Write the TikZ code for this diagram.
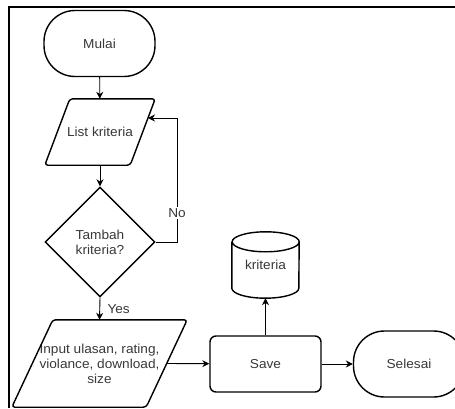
\documentclass[tikz,border=0pt]{standalone}
\usepackage{fontspec}
\setmainfont[FakeStretch=1.05]{Liberation Sans}
\usetikzlibrary{shapes.geometric,arrows.meta,calc}
\begin{document}
\begin{tikzpicture}[x=1pt,y=1pt,
  every node/.style={font=\fontsize{13}{15}\selectfont, text=black!78},
  shp/.style={draw=black, line width=1.4pt},
  term/.style={shp, rectangle, rounded corners=31pt, minimum width=111pt, minimum height=66pt, inner sep=0pt},
  box/.style={rectangle, inner sep=0pt, align=center},
  decide/.style={shp, diamond, aspect=1, minimum size=110pt, inner sep=0pt, align=center},
  proc/.style={shp, rectangle, rounded corners=6pt, minimum width=111pt, minimum height=56pt, inner sep=0pt},
  conn/.style={draw=black, line width=0.9pt, -{Stealth[length=7pt,width=7pt]}},
  lbl/.style={fill=white, inner sep=1pt}
]
\useasboundingbox (0,0) rectangle (455,408);

% outer frame
\draw[line width=2pt] (8.5,0) -- (8.5,400.5) -- (455,400.5);

% nodes
\node[term] (mulai) at (99.5,364.5) {Mulai};
\node[box, minimum width=110pt, minimum height=66pt] (list) at (100,276) {List kriteria};
\node[decide] (dec) at (100,166) {Tambah\\kriteria?};
\node[box, minimum width=175pt, minimum height=87pt] (input) at (99.5,44.5)
      {Input ulasan, rating,\\violance, download,\\size};
\node[proc] (save) at (265.5,44) {Save};
\node[box, minimum width=67pt, minimum height=66pt] (kdb) at (265.5,143) {kriteria};
\node[term] (selesai) at (409,44) {Selesai};

% data (parallelogram) outlines
\draw[shp, rounded corners=3pt] ([xshift=25pt]list.north west) -- (list.north east)
  -- ([xshift=-25pt]list.south east) -- (list.south west) -- cycle;
\draw[shp, rounded corners=3pt] ([xshift=41pt]input.north west) -- (input.north east)
  -- ([xshift=-41pt]input.south east) -- (input.south west) -- cycle;

% database cylinder
\draw[shp] ([yshift=-10pt]kdb.north west) -- ([yshift=10pt]kdb.south west)
  arc[start angle=180, end angle=360, x radius=33.5pt, y radius=10pt]
  -- ([yshift=-10pt]kdb.north east)
  arc[start angle=0, end angle=180, x radius=33.5pt, y radius=10pt]
  arc[start angle=180, end angle=360, x radius=33.5pt, y radius=10pt];

% connector end points on the slanted sides
\coordinate (listin) at (148,290);
\coordinate (inputout) at ($(input.east)+(-20.5,0)$);
\coordinate (loop) at (177,166);

% connectors
\draw[conn] (mulai) -- (list);
\draw[conn] (list) -- (dec);
\draw[conn] (dec.east) -- (loop) |- node[lbl, pos=0.117] {No} (listin);
\draw[conn] (dec.south) -- node[right, pos=0.5, xshift=4pt] {Yes} (input.north);
\draw[conn] (inputout) -- (save);
\draw[conn] (save) -- (kdb.south);
\draw[conn] (save) -- (selesai);
\end{tikzpicture}
\end{document}
